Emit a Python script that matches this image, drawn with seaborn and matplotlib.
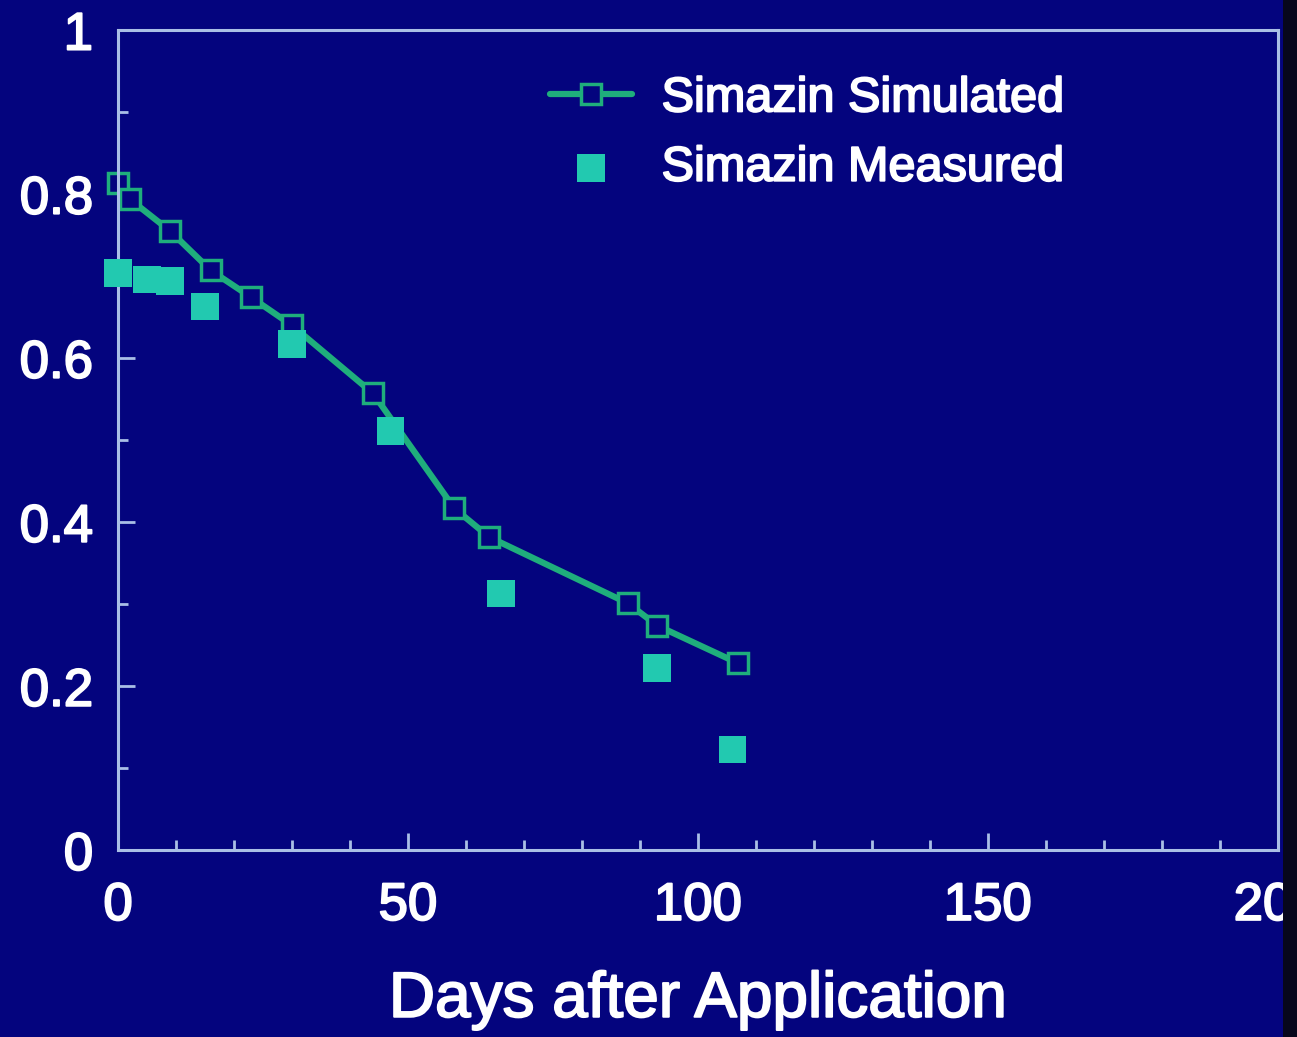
import matplotlib
matplotlib.use("Agg")
import matplotlib.pyplot as plt
import matplotlib.patheffects as pe
import numpy as np
import pandas as pd
import seaborn as sns
from matplotlib.patches import Rectangle
from matplotlib.ticker import MultipleLocator

# ── Dados ──────────────────────────────────────────────────────
dias_sim = [0, 2, 9, 16, 23, 30, 44, 58, 64, 88, 93, 107]
conc_sim = [0.813, 0.794, 0.755, 0.707, 0.674, 0.640, 0.557, 0.417, 0.382, 0.301, 0.274, 0.228]

dias_med = [0, 5, 9, 15, 30, 47, 66, 93, 106]
conc_med = [0.704, 0.696, 0.694, 0.663, 0.617, 0.511, 0.313, 0.222, 0.123]

x_ticks = [0, 50, 100, 150, 200]
y_ticks = [0, 0.2, 0.4, 0.6, 0.8, 1]
y_labels = ["0", "0.2", "0.4", "0.6", "0.8", "1"]

# ── Estilo ────────────────────────────────────────────────────
FUNDO = "#04047e"
EIXO = "#aabfe6"
VERDE = "#1fae7c"
TURQUESA = "#22c9b0"
NEGRITO = [pe.withStroke(linewidth=1.4, foreground="white")]

sns.set_theme(style="white")
plt.rcParams["font.family"] = ["Liberation Sans", "DejaVu Sans"]

df_sim = pd.DataFrame({"dias": dias_sim, "conc": conc_sim})
df_med = pd.DataFrame({"dias": dias_med, "conc": conc_med})

fig = plt.figure(figsize=(12.97, 10.37), dpi=100, facecolor=FUNDO)
ax = fig.add_axes([0.091, 0.180, 0.894, 0.791])
ax.set_facecolor(FUNDO)

sns.lineplot(data=df_sim, x="dias", y="conc", ax=ax, color=VERDE, linewidth=4.5,
             marker="s", markersize=15, markerfacecolor=FUNDO, markeredgecolor=VERDE,
             markeredgewidth=2.5, label="Simazin Simulated", clip_on=False)
sns.scatterplot(data=df_med, x="dias", y="conc", ax=ax, color=TURQUESA, marker="s",
                s=400, edgecolor="none", label="Simazin Measured", zorder=3, clip_on=False)

ax.set_xlim(0, 200)
ax.set_ylim(0, 1)
ax.set_xticks(x_ticks)
ax.set_yticks(y_ticks)
ax.set_yticklabels(y_labels)
ax.xaxis.set_minor_locator(MultipleLocator(10))
ax.yaxis.set_minor_locator(MultipleLocator(0.1))

for lado in ax.spines.values():
    lado.set_color(EIXO)
    lado.set_linewidth(2.2)

ax.tick_params(axis="both", which="both", bottom=True, left=True, top=False, right=False)
ax.tick_params(axis="both", which="major", direction="in", length=12, width=2,
               color=EIXO, labelcolor="white", labelsize=38)
ax.tick_params(axis="both", which="minor", direction="in", length=7, width=2, color=EIXO)
ax.tick_params(axis="y", which="major", pad=18)
ax.tick_params(axis="x", which="major", pad=22)
for rot in ax.get_xticklabels() + ax.get_yticklabels():
    rot.set_path_effects(NEGRITO)

ax.set_xlabel("Days after Application", color="white", fontsize=46, labelpad=28,
              path_effects=NEGRITO)
ax.set_ylabel("")

leg = ax.legend(loc="upper left", bbox_to_anchor=(0.343, 0.985), frameon=False,
                fontsize=35, handlelength=1.7, handletextpad=0.6, labelspacing=0.5,
                borderpad=0.2)
for txt in leg.get_texts():
    txt.set_color("white")
    txt.set_path_effects(NEGRITO)

# faixa escura na borda direita do slide digitalizado
fig.add_artist(Rectangle((0.989, 0), 0.011, 1, transform=fig.transFigure,
                         facecolor="#07071c", edgecolor="none", zorder=10))

fig.savefig("out.png", dpi=100, facecolor=FUNDO)
plt.close(fig)
